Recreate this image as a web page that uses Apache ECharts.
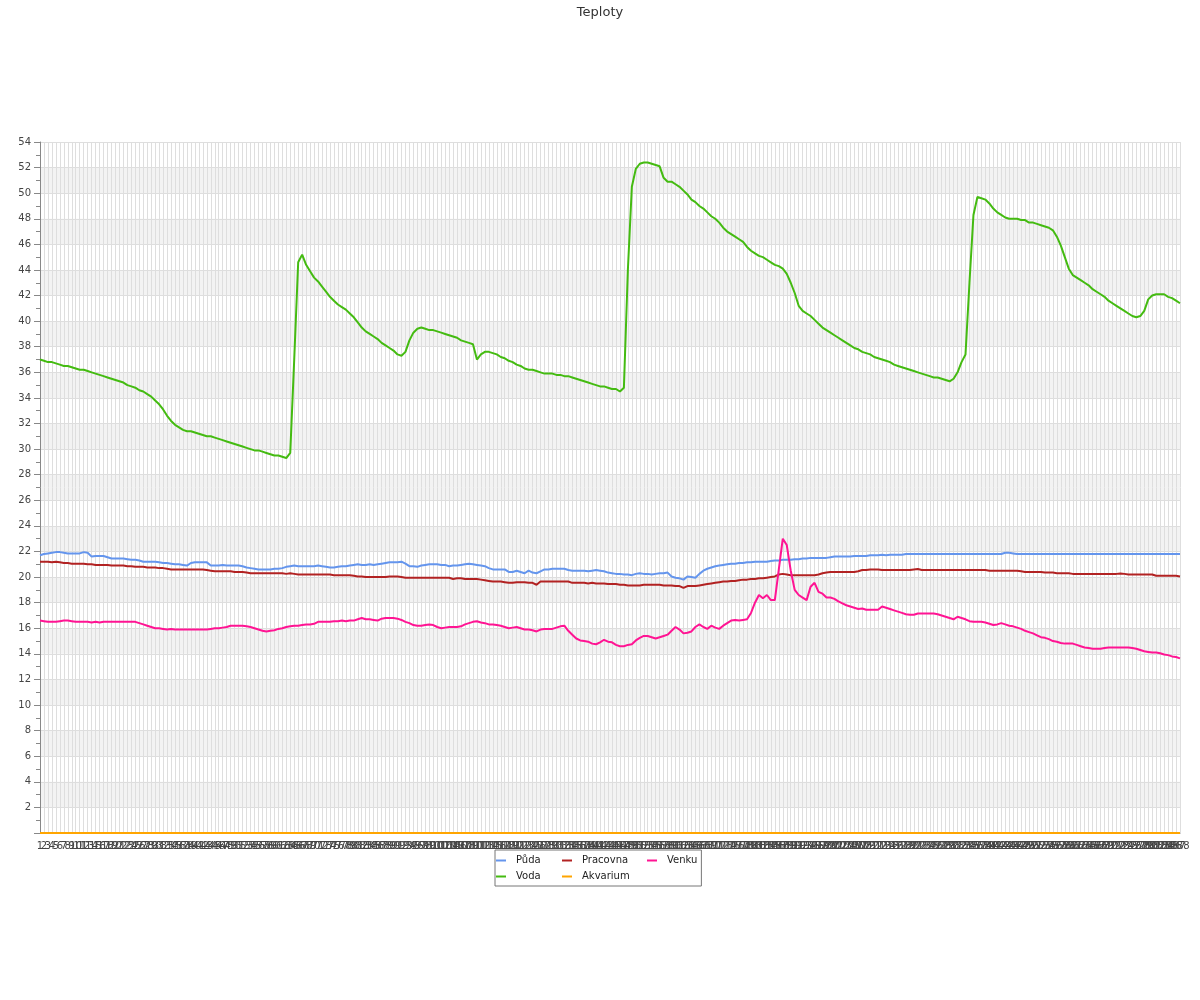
<!DOCTYPE html>
<html><head><meta charset="utf-8"><title>Teploty</title>
<script src="https://cdn.jsdelivr.net/npm/echarts@6/dist/echarts.min.js"></script>
<style>html,body{margin:0;padding:0;background:#fff}#c{width:1200px;height:1000px}</style>
</head><body><div id="c"></div><script>
const chartTitle = 'Teploty';
const seriesNames = ['Půda', 'Pracovna', 'Venku', 'Voda', 'Akvarium'];
const categories = [];
for (let i = 1; i <= 288; i++) categories.push(String(i));
const yMin = 0, yMax = 54, yStep = 2;

const puda = [
21.7,21.8,21.85,21.9,21.95,21.95,21.9,21.85,21.85,21.85,
21.85,21.95,21.9,21.6,21.65,21.65,21.65,21.55,21.45,21.45,
21.45,21.45,21.4,21.35,21.35,21.3,21.2,21.2,21.2,21.2,
21.15,21.1,21.1,21.05,21.0,21.0,20.95,20.9,21.1,21.15,
21.15,21.15,21.15,20.9,20.9,20.9,20.95,20.9,20.9,20.9,
20.9,20.85,20.75,20.7,20.65,20.6,20.6,20.6,20.6,20.65,
20.65,20.7,20.8,20.85,20.9,20.85,20.85,20.85,20.85,20.85,
20.9,20.85,20.8,20.75,20.75,20.8,20.85,20.85,20.9,20.95,
21.0,20.95,20.95,21.0,20.95,21.0,21.05,21.1,21.15,21.15,
21.15,21.2,21.05,20.85,20.85,20.8,20.9,20.95,21.0,21.0,
21.0,20.95,20.95,20.85,20.9,20.9,20.95,21.0,21.05,21.0,
20.95,20.9,20.85,20.7,20.6,20.6,20.6,20.6,20.4,20.4,
20.5,20.4,20.3,20.5,20.35,20.3,20.45,20.6,20.6,20.65,
20.65,20.65,20.65,20.55,20.5,20.5,20.5,20.5,20.45,20.5,
20.55,20.5,20.45,20.35,20.3,20.25,20.25,20.2,20.2,20.15,
20.25,20.3,20.25,20.25,20.2,20.25,20.3,20.3,20.35,20.05,
19.95,19.9,19.8,20.05,20.0,19.95,20.25,20.5,20.65,20.75,
20.85,20.9,20.95,21.0,21.05,21.05,21.1,21.1,21.15,21.15,
21.2,21.2,21.2,21.2,21.25,21.3,21.3,21.35,21.35,21.35,
21.4,21.4,21.45,21.45,21.5,21.5,21.5,21.5,21.5,21.55,
21.6,21.6,21.6,21.6,21.6,21.65,21.65,21.65,21.65,21.7,
21.7,21.7,21.75,21.7,21.75,21.75,21.75,21.75,21.8,21.8,
21.8,21.8,21.8,21.8,21.8,21.8,21.8,21.8,21.8,21.8,
21.8,21.8,21.8,21.8,21.8,21.8,21.8,21.8,21.8,21.8,
21.8,21.8,21.8,21.9,21.9,21.85,21.8,21.8,21.8,21.8,
21.8,21.8,21.8,21.8,21.8,21.8,21.8,21.8,21.8,21.8,
21.8,21.8,21.8,21.8,21.8,21.8,21.8,21.8,21.8,21.8,
21.8,21.8,21.8,21.8,21.8,21.8,21.8,21.8,21.8,21.8,
21.8,21.8,21.8,21.8,21.8,21.8,21.8,21.8
];

const pracovna = [
21.2,21.2,21.2,21.15,21.2,21.15,21.1,21.1,21.05,21.05,
21.05,21.05,21.0,21.0,20.95,20.95,20.95,20.95,20.9,20.9,
20.9,20.9,20.85,20.85,20.8,20.8,20.8,20.75,20.75,20.75,
20.7,20.7,20.65,20.6,20.6,20.6,20.6,20.6,20.6,20.6,
20.6,20.6,20.55,20.5,20.45,20.45,20.45,20.45,20.45,20.4,
20.4,20.4,20.35,20.3,20.3,20.3,20.3,20.3,20.3,20.3,
20.3,20.3,20.25,20.3,20.25,20.2,20.2,20.2,20.2,20.2,
20.2,20.2,20.2,20.2,20.15,20.15,20.15,20.15,20.15,20.1,
20.05,20.05,20.0,20.0,20.0,20.0,20.0,20.0,20.05,20.05,
20.05,20.0,19.95,19.95,19.95,19.95,19.95,19.95,19.95,19.95,
19.95,19.95,19.95,19.95,19.85,19.9,19.9,19.85,19.85,19.85,
19.85,19.8,19.75,19.7,19.65,19.65,19.65,19.6,19.55,19.55,
19.6,19.6,19.6,19.55,19.55,19.4,19.65,19.65,19.65,19.65,
19.65,19.65,19.65,19.65,19.55,19.55,19.55,19.55,19.5,19.55,
19.5,19.5,19.5,19.45,19.45,19.45,19.4,19.4,19.35,19.35,
19.35,19.35,19.4,19.4,19.4,19.4,19.4,19.35,19.35,19.35,
19.3,19.3,19.15,19.3,19.3,19.3,19.35,19.4,19.45,19.5,
19.55,19.6,19.65,19.65,19.7,19.7,19.75,19.8,19.8,19.85,
19.85,19.9,19.9,19.95,20.0,20.05,20.2,20.25,20.2,20.15,
20.15,20.15,20.15,20.15,20.15,20.15,20.2,20.3,20.35,20.4,
20.4,20.4,20.4,20.4,20.4,20.4,20.45,20.55,20.55,20.6,
20.6,20.6,20.55,20.55,20.55,20.55,20.55,20.55,20.55,20.55,
20.6,20.63,20.55,20.55,20.55,20.55,20.55,20.55,20.55,20.55,
20.55,20.55,20.55,20.55,20.55,20.55,20.55,20.55,20.55,20.5,
20.5,20.5,20.5,20.5,20.5,20.5,20.5,20.45,20.4,20.4,
20.4,20.4,20.4,20.35,20.35,20.35,20.3,20.3,20.3,20.3,
20.25,20.25,20.25,20.25,20.25,20.25,20.25,20.25,20.25,20.25,
20.25,20.25,20.27,20.25,20.2,20.2,20.2,20.2,20.2,20.2,
20.2,20.1,20.1,20.1,20.1,20.1,20.1,20.05
];

const venku = [
16.6,16.55,16.5,16.5,16.5,16.55,16.6,16.6,16.55,16.5,
16.5,16.5,16.5,16.45,16.5,16.45,16.5,16.5,16.5,16.5,
16.5,16.5,16.5,16.5,16.5,16.4,16.3,16.2,16.1,16.0,
16.0,15.95,15.9,15.95,15.9,15.9,15.9,15.9,15.9,15.9,
15.9,15.9,15.9,15.95,16.0,16.0,16.05,16.1,16.2,16.2,
16.2,16.2,16.15,16.1,16.0,15.9,15.8,15.75,15.8,15.85,
15.95,16.0,16.1,16.15,16.2,16.2,16.25,16.3,16.3,16.35,
16.5,16.5,16.5,16.5,16.55,16.55,16.6,16.55,16.6,16.6,
16.7,16.8,16.7,16.7,16.65,16.6,16.75,16.8,16.8,16.8,
16.75,16.65,16.5,16.4,16.25,16.2,16.2,16.25,16.3,16.25,
16.1,16.0,16.05,16.1,16.1,16.1,16.15,16.3,16.4,16.5,
16.55,16.45,16.4,16.3,16.3,16.25,16.2,16.1,16.0,16.05,
16.1,16.0,15.9,15.9,15.85,15.75,15.9,15.95,15.95,15.95,
16.05,16.15,16.2,15.8,15.5,15.2,15.05,15.0,14.95,14.8,
14.75,14.9,15.1,14.95,14.9,14.7,14.6,14.6,14.7,14.75,
15.05,15.25,15.4,15.4,15.3,15.2,15.3,15.4,15.5,15.8,
16.1,15.9,15.6,15.65,15.75,16.1,16.3,16.1,15.95,16.2,
16.05,15.95,16.2,16.4,16.6,16.65,16.6,16.65,16.7,17.2,
18.0,18.6,18.35,18.6,18.2,18.2,20.6,23.0,22.5,20.5,
19.0,18.6,18.4,18.2,19.25,19.55,18.85,18.7,18.4,18.4,
18.3,18.1,17.95,17.8,17.7,17.6,17.5,17.55,17.45,17.45,
17.45,17.45,17.7,17.6,17.5,17.4,17.3,17.2,17.1,17.05,
17.05,17.15,17.15,17.15,17.15,17.15,17.1,17.0,16.9,16.8,
16.7,16.9,16.8,16.7,16.55,16.5,16.5,16.5,16.45,16.35,
16.25,16.3,16.4,16.3,16.2,16.15,16.05,15.95,15.8,15.7,
15.6,15.45,15.3,15.25,15.15,15.0,14.95,14.85,14.8,14.8,
14.8,14.7,14.6,14.5,14.45,14.4,14.4,14.4,14.45,14.5,
14.5,14.5,14.5,14.5,14.5,14.45,14.4,14.3,14.2,14.15,
14.1,14.1,14.05,13.95,13.9,13.8,13.75,13.65
];

const voda = [
37.0,36.9,36.8,36.8,36.7,36.6,36.5,36.5,36.4,36.3,
36.2,36.2,36.1,36.0,35.9,35.8,35.7,35.6,35.5,35.4,
35.3,35.2,35.0,34.9,34.8,34.6,34.5,34.3,34.1,33.8,
33.5,33.1,32.6,32.2,31.9,31.7,31.5,31.4,31.4,31.3,
31.2,31.1,31.0,31.0,30.9,30.8,30.7,30.6,30.5,30.4,
30.3,30.2,30.1,30.0,29.9,29.9,29.8,29.7,29.6,29.5,
29.5,29.4,29.3,29.7,37.0,44.6,45.2,44.4,43.9,43.4,
43.1,42.7,42.3,41.9,41.6,41.3,41.1,40.9,40.6,40.3,
39.9,39.5,39.2,39.0,38.8,38.6,38.3,38.1,37.9,37.7,
37.4,37.3,37.6,38.5,39.1,39.4,39.5,39.4,39.3,39.3,
39.2,39.1,39.0,38.9,38.8,38.7,38.5,38.4,38.3,38.2,
37.0,37.4,37.6,37.6,37.5,37.4,37.2,37.1,36.9,36.8,
36.6,36.5,36.3,36.2,36.2,36.1,36.0,35.9,35.9,35.9,
35.8,35.8,35.7,35.7,35.6,35.5,35.4,35.3,35.2,35.1,
35.0,34.9,34.9,34.8,34.7,34.7,34.5,34.8,44.0,50.5,
51.9,52.3,52.4,52.4,52.3,52.2,52.1,51.2,50.9,50.9,
50.7,50.5,50.2,49.9,49.5,49.3,49.0,48.8,48.5,48.2,
48.0,47.7,47.3,47.0,46.8,46.6,46.4,46.2,45.8,45.5,
45.3,45.1,45.0,44.8,44.6,44.4,44.3,44.1,43.7,43.0,
42.2,41.2,40.8,40.6,40.4,40.1,39.8,39.5,39.3,39.1,
38.9,38.7,38.5,38.3,38.1,37.9,37.8,37.6,37.5,37.4,
37.2,37.1,37.0,36.9,36.8,36.6,36.5,36.4,36.3,36.2,
36.1,36.0,35.9,35.8,35.7,35.6,35.6,35.5,35.4,35.3,
35.5,36.0,36.8,37.4,43.0,48.3,49.7,49.6,49.5,49.2,
48.8,48.5,48.3,48.1,48.0,48.0,48.0,47.9,47.9,47.7,
47.7,47.6,47.5,47.4,47.3,47.1,46.6,45.9,45.0,44.1,
43.6,43.4,43.2,43.0,42.8,42.5,42.3,42.1,41.9,41.6,
41.4,41.2,41.0,40.8,40.6,40.4,40.3,40.4,40.8,41.7,
42.0,42.1,42.1,42.1,41.9,41.8,41.6,41.4
];

const akvarium = [
0,0,0,0,0,0,0,0,0,0,0,0,0,0,0,0,0,0,0,0,0,0,0,0,
0,0,0,0,0,0,0,0,0,0,0,0,0,0,0,0,0,0,0,0,0,0,0,0,
0,0,0,0,0,0,0,0,0,0,0,0,0,0,0,0,0,0,0,0,0,0,0,0,
0,0,0,0,0,0,0,0,0,0,0,0,0,0,0,0,0,0,0,0,0,0,0,0,
0,0,0,0,0,0,0,0,0,0,0,0,0,0,0,0,0,0,0,0,0,0,0,0,
0,0,0,0,0,0,0,0,0,0,0,0,0,0,0,0,0,0,0,0,0,0,0,0,
0,0,0,0,0,0,0,0,0,0,0,0,0,0,0,0,0,0,0,0,0,0,0,0,
0,0,0,0,0,0,0,0,0,0,0,0,0,0,0,0,0,0,0,0,0,0,0,0,
0,0,0,0,0,0,0,0,0,0,0,0,0,0,0,0,0,0,0,0,0,0,0,0,
0,0,0,0,0,0,0,0,0,0,0,0,0,0,0,0,0,0,0,0,0,0,0,0,
0,0,0,0,0,0,0,0,0,0,0,0,0,0,0,0,0,0,0,0,0,0,0,0,
0,0,0,0,0,0,0,0,0,0,0,0,0,0,0,0,0,0,0,0,0,0,0,0
];

const colors = {
  'Půda': '#6495ed', 'Pracovna': '#b22222', 'Venku': '#ff1493',
  'Voda': '#44bb11', 'Akvarium': '#ffa500'
};
const dataByName = {
  'Půda': puda, 'Pracovna': pracovna, 'Venku': venku, 'Voda': voda, 'Akvarium': akvarium
};
const FONT = 'DejaVu Sans';

const chart = echarts.init(document.getElementById('c'), null, {renderer: 'canvas'});
const drawOrder = ['Půda', 'Voda', 'Pracovna', 'Venku', 'Akvarium'];
chart.setOption({
  animation: false,
  backgroundColor: '#ffffff',
  title: {
    text: chartTitle, left: 'center', top: 1,
    textStyle: {fontFamily: FONT, fontSize: 13, fontWeight: 'normal', color: '#333'}
  },
  legend: {
    data: seriesNames,
    orient: 'horizontal',
    left: 495, top: 850, width: 210,
    padding: [4, 4, 3, 1],
    itemGap: 3,
    itemWidth: 10, itemHeight: 2,
    icon: 'rect',
    borderColor: '#777', borderWidth: 1,
    backgroundColor: '#fff',
    formatter: function (name) {
      const k = (name === 'Půda' || name === 'Voda') ? 'c1'
              : (name === 'Pracovna' || name === 'Akvarium') ? 'c2' : 'c3';
      return '{' + k + '|' + name + '}';
    },
    textStyle: {
      fontFamily: FONT, fontSize: 10, color: '#222', lineHeight: 13,
      rich: {
        c1: {width: 43, padding: [0, 0, 0, 5], fontFamily: FONT, fontSize: 10, color: '#222', lineHeight: 13},
        c2: {width: 62, padding: [0, 0, 0, 5], fontFamily: FONT, fontSize: 10, color: '#222', lineHeight: 13},
        c3: {padding: [0, 0, 0, 5], fontFamily: FONT, fontSize: 10, color: '#222', lineHeight: 13}
      }
    }
  },
  grid: {left: 40, right: 20, top: 142, bottom: 167, containLabel: false, outerBoundsMode: 'none'},
  xAxis: {
    type: 'category',
    data: categories,
    boundaryGap: false,
    axisLine: {show: true, lineStyle: {color: '#888'}},
    axisTick: {show: false},
    axisLabel: {interval: 0, margin: 8, fontFamily: FONT, fontSize: 10, color: '#444', hideOverlap: false},
    splitLine: {show: true, interval: 0, lineStyle: {color: '#dedede', width: 1}}
  },
  yAxis: {
    type: 'value',
    min: yMin, max: yMax, interval: yStep,
    axisLine: {show: true, lineStyle: {color: '#888'}},
    axisTick: {show: true, length: 6, lineStyle: {color: '#888'}},
    minorTick: {show: true, splitNumber: 2, length: 4, lineStyle: {color: '#888'}},
    axisLabel: {margin: 9, fontFamily: FONT, fontSize: 10, color: '#444', showMinLabel: false},
    splitLine: {show: true, lineStyle: {color: '#dedede', width: 1}},
    splitArea: {show: true, areaStyle: {color: ['rgba(255,255,255,0)', 'rgba(200,200,200,0.22)']}}
  },
  series: drawOrder.map(function (name) {
    return {
      name: name, type: 'line', data: dataByName[name],
      showSymbol: false, symbol: 'none', smooth: false,
      lineStyle: {color: colors[name], width: 2},
      itemStyle: {color: colors[name]},
      z: name === 'Akvarium' ? 5 : 3
    };
  })
});
</script></body></html>
